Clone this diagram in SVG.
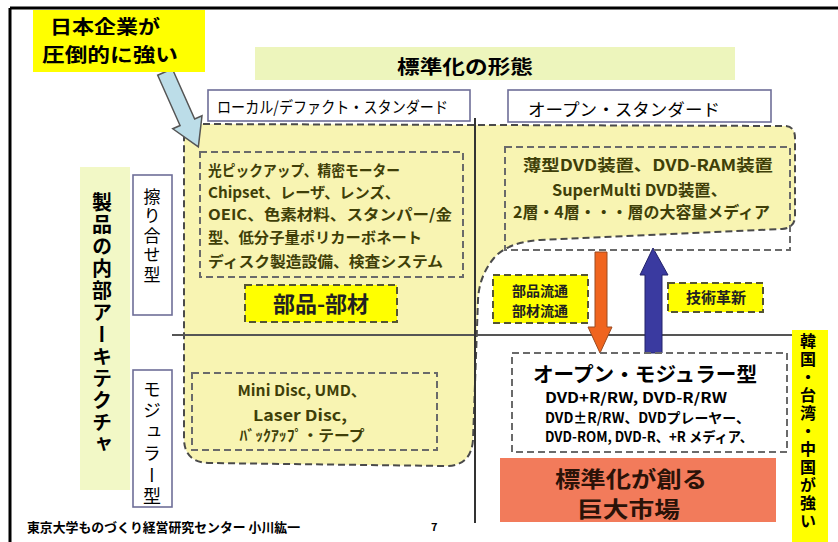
<svg xmlns="http://www.w3.org/2000/svg" width="838" height="542" viewBox="0 0 838 542">
<style>
.b{font-family:"Noto Sans CJK JP","Noto Sans CJK SC",sans-serif;font-weight:700}
.r{font-family:"Noto Sans CJK JP","Noto Sans CJK SC",sans-serif;font-weight:400}
.ol{fill:#3f3f08}
.box{fill:#ffffff;stroke:#6e6e98;stroke-width:1.6}
.dash{fill:none;stroke:#6a6a6a;stroke-width:2;stroke-dasharray:7 4}
.ydash{fill:#ffff00;stroke:#555533;stroke-width:2;stroke-dasharray:7 4}
.v{writing-mode:vertical-rl}
</style>
<rect width="838" height="542" fill="#ffffff"/>
<g id="frame">
<line x1="10" y1="8" x2="838" y2="8" stroke="#000" stroke-width="3"/>
<line x1="10" y1="8" x2="10" y2="542" stroke="#000" stroke-width="3"/>
</g>
<g id="title-band">
<rect x="255" y="47" width="480" height="33" fill="#edf5bc"/>
<text class="b" x="397" y="74" font-size="19" textLength="136" lengthAdjust="spacingAndGlyphs">標準化の形態</text>
</g>
<g id="arch-band">
<rect x="80" y="167" width="50" height="323" fill="#f2f8c6"/>
<text class="b v" x="102" y="192" font-size="20" letter-spacing="2">製品の内部アーキテクチャ</text>
</g>
<g id="blob">
<path d="M192,124 L786,126 Q795,127 795,138 L795,216 Q795,228 782,229 L540,240 Q508,242 494,258 Q479,276 478,300 L473,440 Q471,466 446,466 L208,463 Q185,462 184,440 L184,140 Q184,124 192,124 Z" fill="#f8f4b2" stroke="#4a4a4a" stroke-width="2" stroke-dasharray="7 4"/>
</g>
<g id="connectors">
<line x1="172" y1="335" x2="792" y2="335" stroke="#555" stroke-width="2"/>
<line x1="475" y1="118" x2="475" y2="523" stroke="#333" stroke-width="2"/>
<polygon points="595,252 607,252 607,327 612,327 600,353 588,327 595,327" fill="#f0641e" stroke="#9a4a20" stroke-width="1"/>
<polygon points="645,353 662,353 662,275 668,275 653,248 640,275 645,275" fill="#3a3aa0" stroke="#22226a" stroke-width="1"/>
<polygon points="0,-8 55,-8 55,-16 82,0 55,16 55,8 0,8" fill="#bcdde8" stroke="#555" stroke-width="1.5" transform="translate(165,72) rotate(66)"/>
</g>
<g id="japan-strong">
<rect x="33" y="10" width="172" height="62" fill="#ffff00"/>
<text class="b" x="50" y="34" font-size="19" textLength="110" lengthAdjust="spacingAndGlyphs">日本企業が</text>
<text class="b" x="42" y="62" font-size="19" textLength="136" lengthAdjust="spacingAndGlyphs">圧倒的に強い</text>
</g>
<g id="local-std">
<rect class="box" x="208" y="90" width="262" height="31"/>
<text class="r" x="217" y="113" font-size="16" textLength="231" lengthAdjust="spacingAndGlyphs">ローカル/デファクト・スタンダード</text>
</g>
<g id="open-std">
<rect class="box" x="508" y="90" width="263" height="32"/>
<text class="r" x="528" y="116" font-size="17" textLength="192" lengthAdjust="spacingAndGlyphs">オープン・スタンダード</text>
</g>
<g id="suriawase">
<rect class="box" x="133" y="175" width="39" height="140"/>
<text class="r v" x="152" y="188" font-size="17" letter-spacing="2.4">擦り合せ型</text>
</g>
<g id="modular">
<rect class="box" x="133" y="370" width="39" height="137"/>
<text class="r v" x="152" y="380" font-size="18" letter-spacing="3.5">モジュラー型</text>
</g>
<g id="parts-list">
<rect class="dash" x="200" y="152" width="263" height="125"/>
<text class="b ol" x="208" y="176" font-size="15" textLength="192" lengthAdjust="spacingAndGlyphs">光ピックアップ、精密モーター</text>
<text class="b ol" x="208" y="198" font-size="15" textLength="192" lengthAdjust="spacingAndGlyphs">Chipset、レーザ、レンズ、</text>
<text class="b ol" x="208" y="220" font-size="15" textLength="244" lengthAdjust="spacingAndGlyphs">OEIC、色素材料、スタンパー/金</text>
<text class="b ol" x="208" y="243" font-size="15" textLength="214" lengthAdjust="spacingAndGlyphs">型、低分子量ポリカーボネート</text>
<text class="b ol" x="208" y="267" font-size="15" textLength="235" lengthAdjust="spacingAndGlyphs">ディスク製造設備、検査システム</text>
</g>
<g id="parts">
<rect class="ydash" x="245" y="285" width="152" height="37"/>
<text class="b" x="321" y="312" font-size="22" text-anchor="middle" fill="#222">部品-部材</text>
</g>
<g id="open-devices">
<rect class="dash" x="505" y="147" width="285" height="103"/>
<text class="b ol" x="523" y="171" font-size="16" textLength="250" lengthAdjust="spacingAndGlyphs">薄型DVD装置、DVD-RAM装置</text>
<text class="b ol" x="552" y="196" font-size="16" textLength="175" lengthAdjust="spacingAndGlyphs">SuperMulti DVD装置、</text>
<text class="b ol" x="513" y="218" font-size="16" textLength="257" lengthAdjust="spacingAndGlyphs">2層・4層・・・層の大容量メディア</text>
</g>
<g id="distribution">
<rect class="ydash" x="493" y="275" width="95" height="48"/>
<text class="b" x="540" y="296" font-size="14" text-anchor="middle" fill="#222">部品流通</text>
<text class="b" x="540" y="316" font-size="14" text-anchor="middle" fill="#222">部材流通</text>
</g>
<g id="innovation">
<rect class="ydash" x="668" y="283" width="95" height="29"/>
<text class="b" x="716" y="303" font-size="15" text-anchor="middle" fill="#222">技術革新</text>
</g>
<g id="modular-media">
<rect class="dash" x="192" y="373" width="245" height="77"/>
<text class="b ol" x="302" y="396" font-size="15" text-anchor="middle" textLength="129" lengthAdjust="spacingAndGlyphs">Mini Disc, UMD、</text>
<text class="b ol" x="300" y="421" font-size="15" text-anchor="middle" textLength="94" lengthAdjust="spacingAndGlyphs">Laser Disc,</text>
<text class="b ol" x="302" y="441" font-size="15" text-anchor="middle" textLength="125" lengthAdjust="spacingAndGlyphs">ﾊﾞｯｸｱｯﾌﾟ・テープ</text>
</g>
<g id="open-modular">
<rect class="dash" x="512" y="353" width="275" height="99"/>
<text class="b" x="533" y="382" font-size="20" textLength="224" lengthAdjust="spacingAndGlyphs">オープン・モジュラー型</text>
<text class="b" x="545" y="403" font-size="14" textLength="182" lengthAdjust="spacingAndGlyphs">DVD+R/RW, DVD-R/RW</text>
<text class="b" x="545" y="423" font-size="14" textLength="205" lengthAdjust="spacingAndGlyphs">DVD±R/RW、DVDプレーヤー、</text>
<text class="b" x="545" y="442" font-size="14" textLength="208" lengthAdjust="spacingAndGlyphs">DVD-ROM, DVD-R、+R メディア、</text>
</g>
<g id="big-market">
<rect x="500" y="458" width="276" height="64" fill="#f27b5b"/>
<text class="b" x="555" y="487" font-size="22" textLength="152" lengthAdjust="spacingAndGlyphs" fill="#2a1208">標準化が創る</text>
<text class="b" x="577" y="517" font-size="22" textLength="103" lengthAdjust="spacingAndGlyphs" fill="#2a1208">巨大市場</text>
</g>
<g id="asia-strong">
<rect x="792" y="330" width="36" height="212" fill="#ffff00"/>
<text class="b v" x="808" y="333" font-size="16" letter-spacing="2">韓国・台湾・中国が強い</text>
</g>
<g id="footer">
<text class="b" x="27" y="532" font-size="13" textLength="273" lengthAdjust="spacingAndGlyphs">東京大学ものづくり経営研究センター 小川紘一</text>
<text class="b" x="431" y="531" font-size="11">7</text>
</g>
</svg>
